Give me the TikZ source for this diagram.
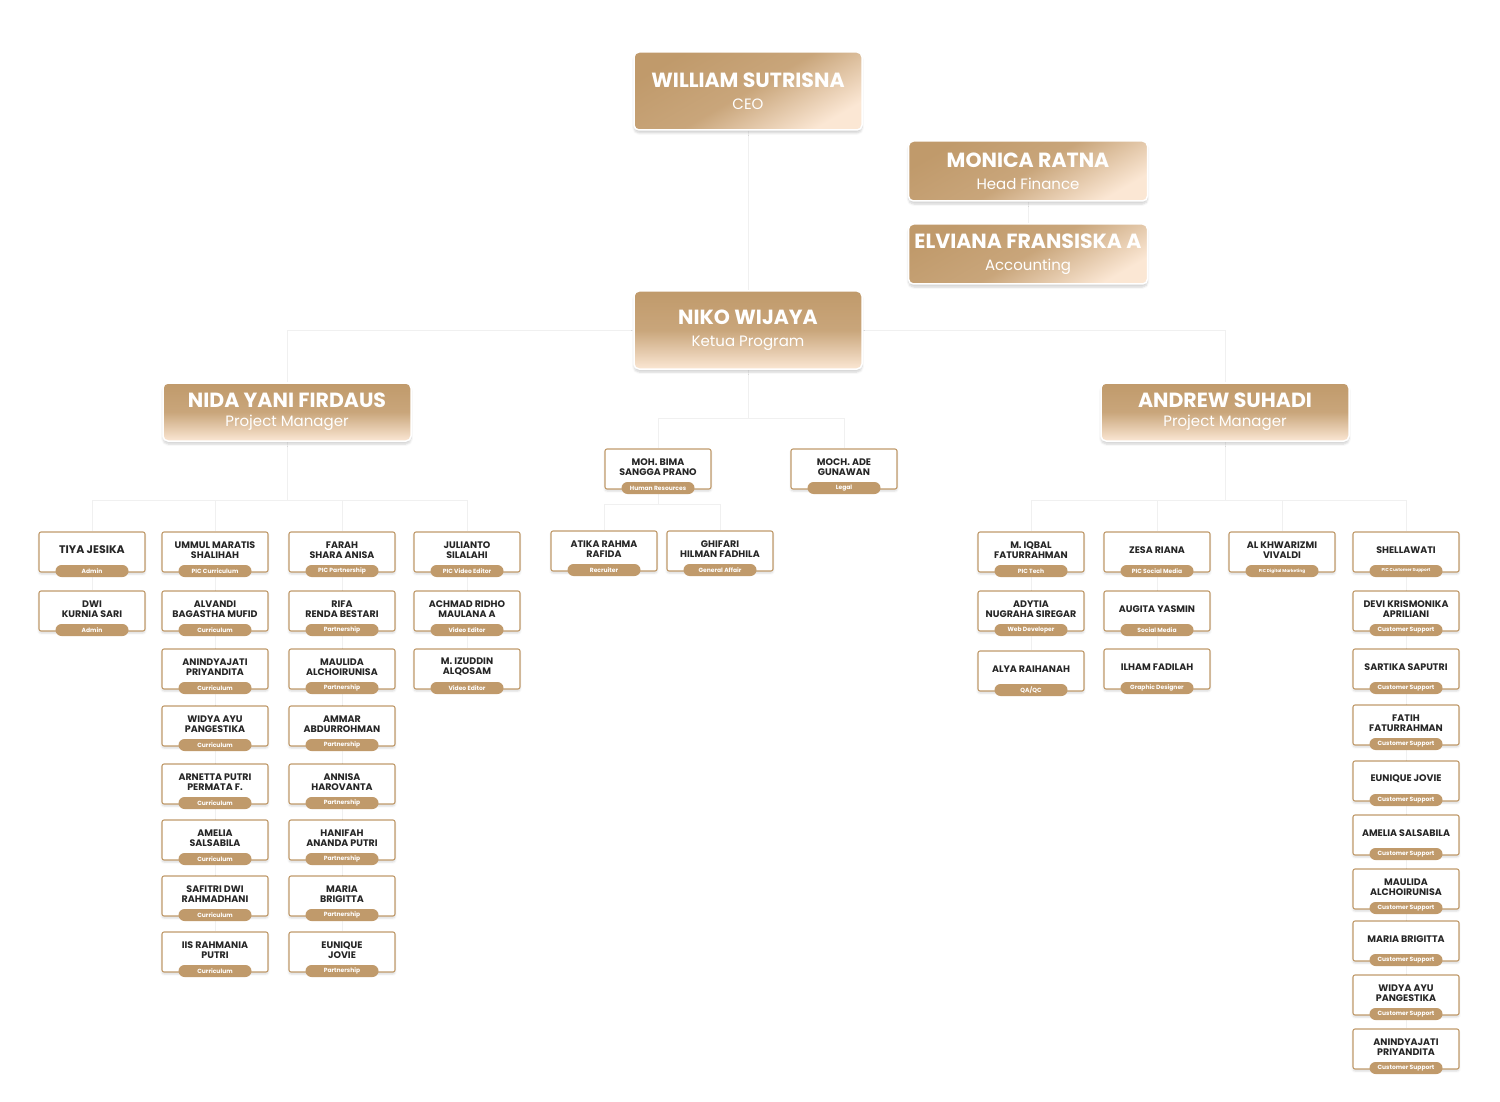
\documentclass[tikz,border=0pt]{standalone}
\usepackage{fontspec}
\setmainfont{Poppins}
\usetikzlibrary{positioning,backgrounds,shadows.blur}
\definecolor{brownbox}{HTML}{C09A6B}
\definecolor{beige}{HTML}{FBE7D4}
\tikzset{
  x=1pt, y=-1pt,
  head/.style={rounded corners=5pt, draw=white, line width=1.5pt, text=white,
    align=center, inner sep=0pt, top color=brownbox, bottom color=beige,
    middle color=brownbox!85!beige, font=\fontsize{14}{22}\selectfont,
    blur shadow={shadow blur steps=6, shadow xshift=0pt, shadow yshift=-3pt, shadow opacity=18}},
  card/.style={draw=brownbox, line width=1.1pt, fill=white, rounded corners=2pt,
    minimum width=106, minimum height=40, inner sep=0pt,
    blur shadow={shadow blur steps=5, shadow xshift=0pt, shadow yshift=-2pt, shadow opacity=15}},
  cardname/.style={align=center, text=black!85, inner sep=0pt,
    font=\fontsize{9.5}{10}\selectfont\bfseries},
  pill/.style={fill=brownbox, rounded corners=6pt, minimum width=73, minimum height=12,
    inner sep=0pt, text=white, font=\fontsize{6}{6}\selectfont\bfseries},
  link/.style={draw=black!6, line width=0.9pt},
}
\newcommand{\bigname}[1]{{\fontsize{20.5}{22}\selectfont\bfseries #1}}
\newcommand{\bigrole}[1]{{\fontsize{15}{16}\selectfont #1}}
\newcommand{\tinyrole}[1]{{\fontsize{4.3}{5}\selectfont #1}}
% card with name and role pill
\newcommand{\member}[5]{%
  \node[card] (#1) at (#2,#3+19) {};
  \node[cardname] at (#2,#3+17) {#4};
  \node[pill] (#1-r) at (#2,#3+38) {#5};
}

\begin{document}
\begin{tikzpicture}
  \useasboundingbox (0,0) rectangle (1500,1102);

  % heads
  \node[head, minimum width=228, minimum height=78, shading angle=30] (ceo) at (748,91)
    {\bigname{WILLIAM SUTRISNA}\\\bigrole{CEO}};
  \node[head, minimum width=239, minimum height=60, shading angle=30] (monica) at (1028,171)
    {\bigname{MONICA RATNA}\\\bigrole{Head Finance}};
  \node[head, minimum width=239, minimum height=60, shading angle=30] (elviana) at (1028,254)
    {\bigname{ELVIANA FRANSISKA A}\\\bigrole{Accounting}};
  \node[head, minimum width=228, minimum height=78] (niko) at (748,330)
    {\bigname{NIKO WIJAYA}\\\bigrole{Ketua Program}};
  \node[head, minimum width=248, minimum height=58, font=\fontsize{14}{19}\selectfont] (nida) at (287,412)
    {\bigname{NIDA YANI FIRDAUS}\\\bigrole{Project Manager}};
  \node[head, minimum width=248, minimum height=58, font=\fontsize{14}{19}\selectfont] (andrew) at (1225,412)
    {\bigname{ANDREW SUHADI}\\\bigrole{Project Manager}};

  % middle
  \member{bima}{658}{450}{MOH. BIMA\\SANGGA PRANO}{Human Resources}
  \member{ade}{844}{450}{MOCH. ADE\\GUNAWAN}{Legal}
  \member{atika}{604}{532}{ATIKA RAHMA\\RAFIDA}{Recruiter}
  \member{ghifari}{720}{532}{GHIFARI\\HILMAN FADHILA}{General Affair}

  % left team
  \foreach \y/\t/\r [count=\i] in {533/{\fontsize{11}{12}\selectfont TIYA JESIKA}/Admin, 592/{DWI\\KURNIA SARI}/Admin}
    {\member{a\i}{92}{\y}{\t}{\r}}
  \foreach \y/\t/\r [count=\i] in {533/{UMMUL MARATIS\\SHALIHAH}/{PIC Curriculum},
      592/{ALVANDI\\BAGASTHA MUFID}/Curriculum, 650/{ANINDYAJATI\\PRIYANDITA}/Curriculum,
      707/{WIDYA AYU\\PANGESTIKA}/Curriculum, 765/{ARNETTA PUTRI\\PERMATA F.}/Curriculum,
      821/{AMELIA\\SALSABILA}/Curriculum, 877/{SAFITRI DWI\\RAHMADHANI}/Curriculum,
      933/{IIS RAHMANIA\\PUTRI}/Curriculum}
    {\member{b\i}{215}{\y}{\t}{\r}}
  \foreach \y/\t/\r [count=\i] in {533/{FARAH\\SHARA ANISA}/{PIC Partnership},
      592/{RIFA\\RENDA BESTARI}/Partnership, 650/{MAULIDA\\ALCHOIRUNISA}/Partnership,
      707/{AMMAR\\ABDURROHMAN}/Partnership, 765/{ANNISA\\HAROVANTA}/Partnership,
      821/{HANIFAH\\ANANDA PUTRI}/Partnership, 877/{MARIA\\BRIGITTA}/Partnership,
      933/{EUNIQUE\\JOVIE}/Partnership}
    {\member{c\i}{342}{\y}{\t}{\r}}
  \foreach \y/\t/\r [count=\i] in {533/{JULIANTO\\SILALAHI}/{PIC Video Editor},
      592/{ACHMAD RIDHO\\MAULANA A}/{Video Editor}, 650/{M. IZUDDIN\\ALQOSAM}/{Video Editor}}
    {\member{d\i}{467}{\y}{\t}{\r}}

  % right team
  \foreach \y/\t/\r [count=\i] in {533/{M. IQBAL\\FATURRAHMAN}/{PIC Tech},
      592/{ADYTIA\\NUGRAHA SIREGAR}/{Web Developer}, 652/{ALYA RAIHANAH}/{QA/QC}}
    {\member{e\i}{1031}{\y}{\t}{\r}}
  \foreach \y/\t/\r [count=\i] in {533/{ZESA RIANA}/{PIC Social Media},
      592/{AUGITA YASMIN}/{Social Media}, 650/{ILHAM FADILAH}/{Graphic Designer}}
    {\member{f\i}{1157}{\y}{\t}{\r}}
  \member{g1}{1282}{533}{AL KHWARIZMI\\VIVALDI}{\tinyrole{PIC Digital Marketing}}
  \foreach \y/\t/\r [count=\i] in {533/{SHELLAWATI}/{\tinyrole{PIC Customer Support}},
      592/{DEVI KRISMONIKA\\APRILIANI}/{Customer Support}, 650/{SARTIKA SAPUTRI}/{Customer Support},
      706/{FATIH\\FATURRAHMAN}/{Customer Support}, 762/{EUNIQUE JOVIE}/{Customer Support},
      816/{AMELIA SALSABILA}/{Customer Support}, 870/{MAULIDA\\ALCHOIRUNISA}/{Customer Support},
      922/{MARIA BRIGITTA}/{Customer Support}, 976/{WIDYA AYU\\PANGESTIKA}/{Customer Support},
      1030/{ANINDYAJATI\\PRIYANDITA}/{Customer Support}}
    {\member{h\i}{1406}{\y}{\t}{\r}}

  % connectors
  \begin{scope}[on background layer]
    \draw[link] (ceo) -- (niko);
    \draw[link] (monica) -- (elviana);
    \draw[link] (niko.west) -| (nida.north);
    \draw[link] (niko.east) -| (andrew.north);
    \foreach \c in {bima,ade}
      \draw[link] (niko.south) -- ++(0,49) -| (\c.north);
    \foreach \c in {atika,ghifari}
      \draw[link] (bima-r.south) -- ++(0,10) -| (\c.north);
    \foreach \c in {a1,b1,c1,d1}
      \draw[link] (nida.south) -- ++(0,59) -| (\c.north);
    \foreach \c in {e1,f1,g1,h1}
      \draw[link] (andrew.south) -- ++(0,59) -| (\c.north);
    \draw[link] (a1) -- (a2);
    \draw[link] (b1) -- (b8);
    \draw[link] (c1) -- (c8);
    \draw[link] (d1) -- (d3);
    \draw[link] (e1) -- (e3);
    \draw[link] (f1) -- (f3);
    \draw[link] (h1) -- (h10);
  \end{scope}
\end{tikzpicture}
\end{document}
